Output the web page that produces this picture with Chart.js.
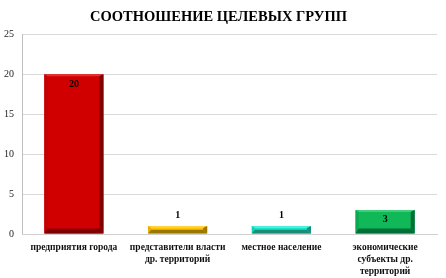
<!DOCTYPE html>
<html>
<head>
<meta charset="utf-8">
<script src="https://cdn.jsdelivr.net/npm/chart.js@4/dist/chart.umd.min.js"></script>
<style>
  html, body { margin: 0; padding: 0; background: #fff; }
  #wrap { width: 446px; height: 278px; }
</style>
</head>
<body>
<div id="wrap"><canvas id="groups-chart" width="446" height="278"></canvas></div>
<script>
// Chart data
const categories = [
  'предприятия города',
  ['представители власти', 'др. территорий'],
  'местное население',
  ['экономические', 'субъекты др.', 'территорий']
];
const values = [20, 1, 1, 3];
const yTicks = [0, 5, 10, 15, 20, 25];

// Bar colours: face, top bevel, left bevel, dark (right / bottom) bevel
const faceColors = ['#d00000', '#ffc000', '#14e6c8', '#10b858'];
const topColors = ['#e23030', '#ffd040', '#50f0d8', '#40cc78'];
const leftColors = ['#c40000', '#e8b000', '#10d4b8', '#0ca850'];
const darkColors = ['#800000', '#9a7800', '#1a8c78', '#007038'];

const serif = '"Liberation Serif", "Times New Roman", serif';

// Draws a bevel frame on each bar
const bevelPlugin = {
  id: 'bevel',
  afterDatasetsDraw(chart) {
    const ctx = chart.ctx;
    const meta = chart.getDatasetMeta(0);
    meta.data.forEach((bar, i) => {
      const l = bar.x - bar.width / 2;
      const r = bar.x + bar.width / 2;
      const t = bar.y;
      const btm = bar.base;
      const h = btm - t;
      const bt = Math.min(2, h / 4), bl = 3, br = 4, bb = Math.min(5, h / 2);
      const poly = (pts, col) => {
        ctx.fillStyle = col;
        ctx.beginPath();
        ctx.moveTo(pts[0][0], pts[0][1]);
        pts.slice(1).forEach(p => ctx.lineTo(p[0], p[1]));
        ctx.closePath();
        ctx.fill();
      };
      ctx.save();
      poly([[l, t], [r, t], [r - br, t + bt], [l + bl, t + bt]], topColors[i]);
      poly([[l, t], [l + bl, t + bt], [l + bl, btm - bb], [l, btm]], leftColors[i]);
      poly([[r, t], [r, btm], [r - br, btm - bb], [r - br, t + bt]], darkColors[i]);
      poly([[l, btm], [r, btm], [r - br, btm - bb], [l + bl, btm - bb]], darkColors[i]);
      ctx.restore();
    });
  }
};

// Value labels
const valueLabelPlugin = {
  id: 'valueLabels',
  afterDatasetsDraw(chart) {
    const ctx = chart.ctx;
    const meta = chart.getDatasetMeta(0);
    ctx.save();
    ctx.font = 'bold 10px ' + serif;
    ctx.fillStyle = '#000';
    ctx.textAlign = 'center';
    ctx.textBaseline = 'middle';
    meta.data.forEach((bar, i) => {
      const h = bar.base - bar.y;
      let y;
      if (h > 40) y = bar.y + 10;
      else if (h > 16) y = bar.y + 9;
      else y = bar.y - 11;
      ctx.fillText(String(values[i]), bar.x, y);
    });
    ctx.restore();
  }
};

new Chart(document.getElementById('groups-chart'), {
  type: 'bar',
  data: {
    labels: categories,
    datasets: [{
      data: values,
      backgroundColor: faceColors,
      borderWidth: 0,
      categoryPercentage: 1,
      barPercentage: 0.57
    }]
  },
  options: {
    responsive: false,
    animation: false,
    layout: { padding: { left: 0, right: 9, top: 0, bottom: 0 } },
    plugins: {
      legend: { display: false },
      tooltip: { enabled: false },
      title: {
        display: true,
        text: 'СООТНОШЕНИЕ ЦЕЛЕВЫХ ГРУПП',
        color: '#000',
        font: { family: serif, size: 14.5, weight: 'bold' },
        padding: { top: 9, bottom: 8 }
      }
    },
    scales: {
      y: {
        min: 0,
        max: 25,
        afterBuildTicks: (axis) => { axis.ticks = yTicks.map(v => ({ value: v })); },
        afterFit: (axis) => { axis.width = 22; },
        grid: { color: '#d9d9d9', drawTicks: false },
        border: { color: '#bfbfbf' },
        ticks: {
          color: '#222',
          padding: 8,
          font: { family: serif, size: 10 }
        }
      },
      x: {
        afterFit: (axis) => { axis.height = 44; },
        grid: { display: false },
        border: { color: '#d0d0d0' },
        ticks: {
          color: '#111',
          padding: -1,
          maxRotation: 0,
          autoSkip: false,
          font: { family: serif, size: 9.5, weight: 'bold', lineHeight: 1.3 }
        }
      }
    }
  },
  plugins: [bevelPlugin, valueLabelPlugin]
});
</script>
</body>
</html>
